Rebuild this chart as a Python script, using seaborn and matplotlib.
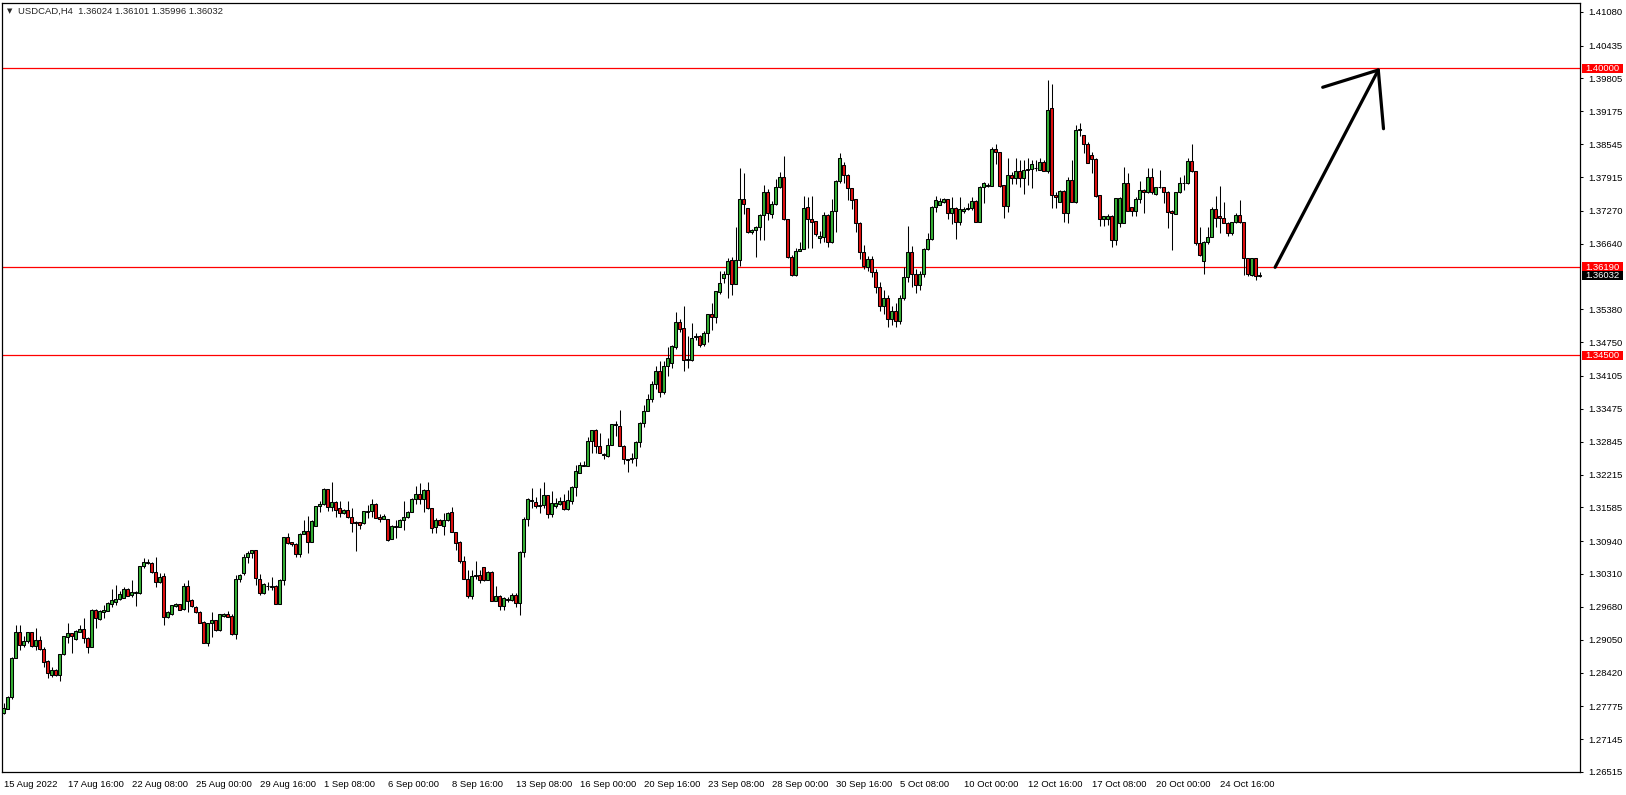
"""
USDCAD H4 candlestick chart (MT4 style)
"""

import matplotlib
matplotlib.use('Agg')
import numpy as np
import matplotlib.pyplot as plt
import matplotlib.transforms as mtransforms
from matplotlib.patches import Rectangle
import seaborn as sns

# chart header
symbol = 'USDCAD,H4'
last_quote = ['1.36024', '1.36101', '1.35996', '1.36032']

# OHLC per H4 bar
opens = [
    1.2764, 1.2773, 1.2796, 1.2869, 1.2920, 1.2895, 1.2902, 1.2919, 1.2893, 1.2904,
    1.2888, 1.2864, 1.2837, 1.2847, 1.2838, 1.2877, 1.2911, 1.2917, 1.2906, 1.2920,
    1.2925, 1.2909, 1.2891, 1.2962, 1.2944, 1.2958, 1.2960, 1.2973, 1.2978, 1.2982,
    1.2985, 1.3003, 1.2990, 1.2994, 1.2994, 1.3046, 1.3051, 1.3051, 1.3034, 1.3016,
    1.3027, 1.2948, 1.2955, 1.2970, 1.2973, 1.2963, 1.3008, 1.2981, 1.2968, 1.2958,
    1.2939, 1.2899, 1.2936, 1.2942, 1.2923, 1.2950, 1.2955, 1.2951, 1.2915, 1.3021,
    1.3032, 1.3063, 1.3071, 1.3076, 1.3021, 1.2995, 1.3007, 1.3005, 1.3008, 1.2974,
    1.3019, 1.3101, 1.3092, 1.3089, 1.3069, 1.3108, 1.3114, 1.3093, 1.3123, 1.3161,
    1.3165, 1.3193, 1.3159, 1.3169, 1.3157, 1.3147, 1.3154, 1.3140, 1.3131, 1.3130,
    1.3128, 1.3150, 1.3151, 1.3165, 1.3141, 1.3137, 1.3136, 1.3098, 1.3121, 1.3121,
    1.3135, 1.3140, 1.3150, 1.3174, 1.3184, 1.3174, 1.3192, 1.3157, 1.3121, 1.3135,
    1.3123, 1.3134, 1.3150, 1.3112, 1.3093, 1.3055, 1.3022, 1.2989, 1.3029, 1.3029,
    1.3044, 1.3020, 1.3035, 1.2980, 1.2989, 1.2970, 1.2983, 1.2981, 1.2991, 1.2975,
    1.3073, 1.3136, 1.3170, 1.3168, 1.3162, 1.3163, 1.3182, 1.3146, 1.3161, 1.3165,
    1.3171, 1.3155, 1.3171, 1.3198, 1.3225, 1.3238, 1.3238, 1.3286, 1.3306, 1.3277,
    1.3260, 1.3257, 1.3279, 1.3316, 1.3314, 1.3277, 1.3251, 1.3251, 1.3254, 1.3284,
    1.3320, 1.3343, 1.3367, 1.3395, 1.3420, 1.3380, 1.3430, 1.3435, 1.3465, 1.3513,
    1.3502, 1.3441, 1.3441, 1.3485, 1.3487, 1.3471, 1.3493, 1.3529, 1.3524, 1.3572,
    1.3599, 1.3605, 1.3633, 1.3587, 1.3633, 1.3749, 1.3732, 1.3687, 1.3691, 1.3695,
    1.3719, 1.3762, 1.3720, 1.3739, 1.3772, 1.3791, 1.3711, 1.3638, 1.3603, 1.3650,
    1.3654, 1.3734, 1.3711, 1.3707, 1.3674, 1.3677, 1.3719, 1.3668, 1.3727, 1.3784,
    1.3815, 1.3796, 1.3770, 1.3749, 1.3704, 1.3647, 1.3620, 1.3634, 1.3610, 1.3580,
    1.3545, 1.3560, 1.3520, 1.3535, 1.3515, 1.3560, 1.3600, 1.3647, 1.3605, 1.3585,
    1.3605, 1.3654, 1.3672, 1.3735, 1.3738, 1.3744, 1.3749, 1.3723, 1.3733, 1.3706,
    1.3727, 1.3731, 1.3732, 1.3746, 1.3706, 1.3772, 1.3775, 1.3775, 1.3845, 1.3839,
    1.3776, 1.3737, 1.3795, 1.3789, 1.3803, 1.3790, 1.3806, 1.3807, 1.3809, 1.3806,
    1.3820, 1.3804, 1.3923, 1.3758, 1.3744, 1.3765, 1.3723, 1.3786, 1.3744, 1.3882,
    1.3872, 1.3855, 1.3834, 1.3827, 1.3757, 1.3711, 1.3712, 1.3717, 1.3670, 1.3704,
    1.3704, 1.3780, 1.3734, 1.3727, 1.3749, 1.3767, 1.3762, 1.3791, 1.3759, 1.3772,
    1.3772, 1.3763, 1.3727, 1.3721, 1.3762, 1.3780, 1.3780, 1.3822, 1.3803, 1.3665,
    1.3631, 1.3668, 1.3677, 1.3730, 1.3716, 1.3714, 1.3704, 1.3685, 1.3705, 1.3719,
    1.3705, 1.3636, 1.3603, 1.3636, 1.36024,
]
highs = [
    1.2783, 1.2797, 1.2871, 1.2934, 1.2934, 1.2912, 1.2920, 1.2920, 1.2928, 1.2912,
    1.2891, 1.2866, 1.2853, 1.2848, 1.2877, 1.2912, 1.2936, 1.2918, 1.2923, 1.2933,
    1.2946, 1.2910, 1.2963, 1.2963, 1.2961, 1.2971, 1.2977, 1.3003, 1.3010, 1.2998,
    1.3005, 1.3004, 1.3019, 1.2998, 1.3047, 1.3061, 1.3059, 1.3053, 1.3064, 1.3032,
    1.3032, 1.2960, 1.2972, 1.2975, 1.2974, 1.3014, 1.3019, 1.2982, 1.2969, 1.2959,
    1.2940, 1.2937, 1.2958, 1.2943, 1.2955, 1.2956, 1.2960, 1.2955, 1.3029, 1.3031,
    1.3069, 1.3074, 1.3077, 1.3077, 1.3030, 1.3014, 1.3015, 1.3026, 1.3009, 1.3021,
    1.3102, 1.3109, 1.3093, 1.3090, 1.3110, 1.3135, 1.3142, 1.3135, 1.3162, 1.3170,
    1.3196, 1.3194, 1.3207, 1.3170, 1.3170, 1.3155, 1.3171, 1.3157, 1.3132, 1.3131,
    1.3152, 1.3163, 1.3174, 1.3166, 1.3145, 1.3146, 1.3137, 1.3124, 1.3135, 1.3136,
    1.3171, 1.3152, 1.3176, 1.3200, 1.3205, 1.3193, 1.3208, 1.3158, 1.3138, 1.3137,
    1.3148, 1.3149, 1.3160, 1.3112, 1.3094, 1.3065, 1.3038, 1.3038, 1.3056, 1.3038,
    1.3045, 1.3037, 1.3037, 1.3008, 1.2990, 1.2987, 1.2986, 1.2994, 1.2994, 1.3074,
    1.3141, 1.3176, 1.3195, 1.3179, 1.3195, 1.3208, 1.3183, 1.3189, 1.3176, 1.3179,
    1.3184, 1.3192, 1.3199, 1.3240, 1.3246, 1.3248, 1.3294, 1.3307, 1.3308, 1.3302,
    1.3263, 1.3291, 1.3319, 1.3324, 1.3345, 1.3278, 1.3252, 1.3262, 1.3285, 1.3322,
    1.3355, 1.3376, 1.3400, 1.3430, 1.3440, 1.3440, 1.3465, 1.3470, 1.3532, 1.3520,
    1.3545, 1.3486, 1.3512, 1.3492, 1.3489, 1.3497, 1.3530, 1.3551, 1.3574, 1.3612,
    1.3612, 1.3637, 1.3638, 1.3695, 1.3808, 1.3799, 1.3733, 1.3692, 1.3698, 1.3721,
    1.3776, 1.3768, 1.3745, 1.3787, 1.3802, 1.3832, 1.3712, 1.3643, 1.3655, 1.3668,
    1.3755, 1.3754, 1.3755, 1.3708, 1.3689, 1.3725, 1.3720, 1.3749, 1.3786, 1.3838,
    1.3820, 1.3797, 1.3771, 1.3750, 1.3705, 1.3661, 1.3640, 1.3640, 1.3615, 1.3590,
    1.3575, 1.3565, 1.3545, 1.3550, 1.3565, 1.3620, 1.3697, 1.3660, 1.3615, 1.3612,
    1.3655, 1.3684, 1.3737, 1.3755, 1.3751, 1.3751, 1.3750, 1.3754, 1.3734, 1.3753,
    1.3735, 1.3742, 1.3754, 1.3748, 1.3774, 1.3783, 1.3780, 1.3850, 1.3855, 1.3840,
    1.3777, 1.3829, 1.3802, 1.3829, 1.3824, 1.3825, 1.3829, 1.3825, 1.3824, 1.3828,
    1.3825, 1.3978, 1.3970, 1.3763, 1.3767, 1.3767, 1.3791, 1.3825, 1.3891, 1.3896,
    1.3873, 1.3859, 1.3840, 1.3828, 1.3758, 1.3717, 1.3720, 1.3718, 1.3752, 1.3753,
    1.3810, 1.3800, 1.3735, 1.3753, 1.3784, 1.3768, 1.3808, 1.3808, 1.3773, 1.3806,
    1.3773, 1.3764, 1.3728, 1.3763, 1.3791, 1.3795, 1.3829, 1.3854, 1.3804, 1.3695,
    1.3669, 1.3695, 1.3734, 1.3755, 1.3774, 1.3744, 1.3705, 1.3706, 1.3723, 1.3748,
    1.3706, 1.3637, 1.3637, 1.3637, 1.36101,
]
lows = [
    1.2762, 1.2772, 1.2792, 1.2869, 1.2886, 1.2891, 1.2898, 1.2891, 1.2886, 1.2886,
    1.2853, 1.2831, 1.2834, 1.2836, 1.2826, 1.2876, 1.2899, 1.2879, 1.2905, 1.2919,
    1.2899, 1.2880, 1.2890, 1.2928, 1.2943, 1.2947, 1.2959, 1.2968, 1.2971, 1.2981,
    1.2984, 1.2988, 1.2987, 1.2970, 1.2993, 1.3042, 1.3050, 1.3033, 1.3005, 1.3013,
    1.2934, 1.2946, 1.2953, 1.2968, 1.2961, 1.2962, 1.2958, 1.2968, 1.2956, 1.2936,
    1.2898, 1.2893, 1.2911, 1.2922, 1.2922, 1.2949, 1.2948, 1.2914, 1.2906, 1.3015,
    1.3029, 1.3052, 1.3061, 1.3009, 1.2991, 1.2992, 1.3000, 1.3000, 1.2973, 1.2973,
    1.3010, 1.3089, 1.3085, 1.3064, 1.3063, 1.3107, 1.3072, 1.3092, 1.3122, 1.3149,
    1.3164, 1.3151, 1.3151, 1.3140, 1.3140, 1.3145, 1.3138, 1.3112, 1.3074, 1.3117,
    1.3127, 1.3138, 1.3141, 1.3138, 1.3130, 1.3136, 1.3095, 1.3097, 1.3100, 1.3120,
    1.3115, 1.3139, 1.3149, 1.3165, 1.3165, 1.3149, 1.3156, 1.3110, 1.3110, 1.3124,
    1.3106, 1.3133, 1.3111, 1.3076, 1.3051, 1.3022, 1.2984, 1.2982, 1.3022, 1.3014,
    1.3018, 1.3019, 1.2979, 1.2979, 1.2962, 1.2962, 1.2978, 1.2980, 1.2968, 1.2953,
    1.3063, 1.3122, 1.3157, 1.3157, 1.3147, 1.3157, 1.3139, 1.3141, 1.3157, 1.3164,
    1.3153, 1.3154, 1.3165, 1.3180, 1.3225, 1.3237, 1.3237, 1.3263, 1.3262, 1.3262,
    1.3251, 1.3256, 1.3278, 1.3295, 1.3276, 1.3242, 1.3227, 1.3244, 1.3238, 1.3274,
    1.3312, 1.3343, 1.3360, 1.3385, 1.3370, 1.3375, 1.3410, 1.3425, 1.3462, 1.3495,
    1.3420, 1.3425, 1.3440, 1.3480, 1.3465, 1.3468, 1.3476, 1.3498, 1.3512, 1.3568,
    1.3588, 1.3559, 1.3566, 1.3586, 1.3621, 1.3721, 1.3684, 1.3683, 1.3639, 1.3671,
    1.3671, 1.3709, 1.3714, 1.3738, 1.3770, 1.3709, 1.3636, 1.3601, 1.3601, 1.3649,
    1.3653, 1.3655, 1.3655, 1.3679, 1.3665, 1.3668, 1.3657, 1.3665, 1.3687, 1.3780,
    1.3780, 1.3748, 1.3730, 1.3687, 1.3634, 1.3615, 1.3612, 1.3600, 1.3570, 1.3535,
    1.3530, 1.3505, 1.3508, 1.3505, 1.3510, 1.3555, 1.3590, 1.3580, 1.3570, 1.3575,
    1.3600, 1.3652, 1.3671, 1.3725, 1.3738, 1.3742, 1.3712, 1.3701, 1.3673, 1.3700,
    1.3723, 1.3728, 1.3728, 1.3705, 1.3705, 1.3741, 1.3773, 1.3774, 1.3817, 1.3772,
    1.3714, 1.3725, 1.3779, 1.3779, 1.3773, 1.3760, 1.3776, 1.3770, 1.3804, 1.3805,
    1.3803, 1.3800, 1.3732, 1.3732, 1.3743, 1.3706, 1.3703, 1.3743, 1.3741, 1.3870,
    1.3838, 1.3818, 1.3800, 1.3753, 1.3698, 1.3698, 1.3700, 1.3657, 1.3661, 1.3696,
    1.3703, 1.3726, 1.3717, 1.3717, 1.3742, 1.3723, 1.3761, 1.3760, 1.3757, 1.3771,
    1.3742, 1.3694, 1.3651, 1.3720, 1.3761, 1.3766, 1.3779, 1.3802, 1.3661, 1.3641,
    1.3605, 1.3663, 1.3676, 1.3695, 1.3685, 1.3703, 1.3679, 1.3681, 1.3704, 1.3703,
    1.3604, 1.3602, 1.3602, 1.3595, 1.35996,
]
closes = [
    1.2774, 1.2796, 1.2869, 1.2920, 1.2895, 1.2902, 1.2919, 1.2893, 1.2904, 1.2888,
    1.2863, 1.2842, 1.2847, 1.2837, 1.2877, 1.2912, 1.2917, 1.2912, 1.2922, 1.2925,
    1.2909, 1.2891, 1.2962, 1.2946, 1.2960, 1.2962, 1.2976, 1.2981, 1.2982, 1.2992,
    1.3003, 1.2989, 1.2996, 1.2997, 1.3046, 1.3054, 1.3054, 1.3034, 1.3016, 1.3026,
    1.2948, 1.2958, 1.2971, 1.2973, 1.2962, 1.3008, 1.2980, 1.2969, 1.2958, 1.2937,
    1.2899, 1.2936, 1.2942, 1.2923, 1.2954, 1.2954, 1.2949, 1.2915, 1.3021, 1.3029,
    1.3063, 1.3071, 1.3076, 1.3023, 1.2995, 1.3012, 1.3007, 1.3008, 1.2974, 1.3020,
    1.3101, 1.3091, 1.3088, 1.3069, 1.3108, 1.3114, 1.3093, 1.3133, 1.3161, 1.3165,
    1.3193, 1.3159, 1.3169, 1.3154, 1.3147, 1.3154, 1.3140, 1.3128, 1.3128, 1.3124,
    1.3151, 1.3151, 1.3165, 1.3139, 1.3137, 1.3142, 1.3096, 1.3123, 1.3123, 1.3135,
    1.3141, 1.3150, 1.3174, 1.3184, 1.3174, 1.3192, 1.3157, 1.3119, 1.3135, 1.3125,
    1.3134, 1.3148, 1.3112, 1.3090, 1.3055, 1.3022, 1.2989, 1.3027, 1.3027, 1.3019,
    1.3020, 1.3035, 1.2980, 1.2989, 1.2970, 1.2985, 1.2981, 1.2991, 1.2975, 1.3073,
    1.3136, 1.3174, 1.3172, 1.3162, 1.3164, 1.3182, 1.3146, 1.3166, 1.3167, 1.3171,
    1.3155, 1.3173, 1.3198, 1.3228, 1.3240, 1.3240, 1.3286, 1.3306, 1.3276, 1.3263,
    1.3258, 1.3279, 1.3318, 1.3318, 1.3277, 1.3251, 1.3249, 1.3254, 1.3284, 1.3321,
    1.3343, 1.3367, 1.3395, 1.3420, 1.3380, 1.3430, 1.3445, 1.3468, 1.3513, 1.3500,
    1.3441, 1.3443, 1.3484, 1.3487, 1.3470, 1.3492, 1.3529, 1.3524, 1.3573, 1.3588,
    1.3605, 1.3631, 1.3587, 1.3633, 1.3749, 1.3739, 1.3687, 1.3691, 1.3695, 1.3719,
    1.3762, 1.3723, 1.3739, 1.3772, 1.3791, 1.3711, 1.3638, 1.3603, 1.3650, 1.3654,
    1.3732, 1.3711, 1.3706, 1.3683, 1.3679, 1.3719, 1.3668, 1.3727, 1.3784, 1.3829,
    1.3796, 1.3770, 1.3748, 1.3704, 1.3647, 1.3621, 1.3634, 1.3610, 1.3580, 1.3545,
    1.3560, 1.3520, 1.3535, 1.3515, 1.3560, 1.3600, 1.3647, 1.3605, 1.3585, 1.3605,
    1.3653, 1.3672, 1.3735, 1.3748, 1.3746, 1.3749, 1.3723, 1.3733, 1.3706, 1.3731,
    1.3731, 1.3732, 1.3746, 1.3706, 1.3772, 1.3780, 1.3777, 1.3845, 1.3839, 1.3775,
    1.3737, 1.3795, 1.3789, 1.3803, 1.3790, 1.3806, 1.3807, 1.3816, 1.3808, 1.3820,
    1.3804, 1.3921, 1.3758, 1.3753, 1.3765, 1.3723, 1.3786, 1.3744, 1.3882, 1.3883,
    1.3854, 1.3819, 1.3827, 1.3755, 1.3711, 1.3716, 1.3717, 1.3670, 1.3751, 1.3751,
    1.3780, 1.3727, 1.3727, 1.3749, 1.3767, 1.3762, 1.3791, 1.3762, 1.3772, 1.3772,
    1.3763, 1.3725, 1.3722, 1.3762, 1.3780, 1.3780, 1.3822, 1.3803, 1.3665, 1.3642,
    1.3668, 1.3677, 1.3730, 1.3714, 1.3714, 1.3704, 1.3685, 1.3705, 1.3719, 1.3705,
    1.3636, 1.3606, 1.3636, 1.3601, 1.36032,
]

# time axis: one label every 16 bars
date_labels = ['15 Aug 2022', '17 Aug 16:00', '22 Aug 08:00', '25 Aug 00:00',
               '29 Aug 16:00', '1 Sep 08:00', '6 Sep 00:00', '8 Sep 16:00',
               '13 Sep 08:00', '16 Sep 00:00', '20 Sep 16:00', '23 Sep 08:00',
               '28 Sep 00:00', '30 Sep 16:00', '5 Oct 08:00', '10 Oct 00:00',
               '12 Oct 16:00', '17 Oct 08:00', '20 Oct 00:00', '24 Oct 16:00']
label_step = 16

price_ticks = [1.41080, 1.40435, 1.39805, 1.39175, 1.38545, 1.37915, 1.37270,
               1.36640, 1.35380, 1.34750, 1.34105, 1.33475, 1.32845, 1.32215,
               1.31585, 1.30940, 1.30310, 1.29680, 1.29050, 1.28420, 1.27775,
               1.27145, 1.26515]

# horizontal levels and current bid
level_lines = [1.40000, 1.36190, 1.34500]
current_price = 1.36032

# hand drawn arrow (bar index, price)
arrow_shaft = [(317.9, 1.36186), (343.7, 1.39967)]
arrow_head_left = (329.8, 1.39636)
arrow_head_right = (345.0, 1.38842)

bull_color = '#35b035'
bear_color = '#e01010'
font_size = 6.8

sns.set_style('white')
plt.rcParams['font.family'] = ['Liberation Sans', 'DejaVu Sans']

fig = plt.figure(figsize=(16.26, 7.95), dpi=100)
ax = fig.add_axes([2.3 / 1626, 23 / 795, 1578 / 1626, 769.3 / 795])

o = np.array(opens)
h = np.array(highs)
l = np.array(lows)
c = np.array(closes)
x = np.arange(len(o))

body_low = np.minimum(o, c)
body_h = np.abs(c - o)
colors = np.where(c >= o, bull_color, bear_color)

ax.vlines(x, l, h, color='black', linewidth=0.75, zorder=2)
ax.bar(x, body_h, bottom=body_low, width=0.55, color=colors,
       edgecolor='black', linewidth=0.75, zorder=3)

for lvl in level_lines:
    ax.axhline(lvl, color='red', linewidth=0.9, zorder=1)

# arrow
(x0, y0), (x1, y1) = arrow_shaft
ax.plot([x0, x1], [y0, y1], color='black', lw=2.3, solid_capstyle='round', zorder=4)
ax.plot([arrow_head_left[0], x1, arrow_head_right[0]],
        [arrow_head_left[1], y1, arrow_head_right[1]],
        color='black', lw=2.3, solid_capstyle='round', solid_joinstyle='round', zorder=4)

ax.set_xlim(-0.3, 394.2)
ax.set_ylim(1.26514, 1.41257)

for side in ['top', 'bottom', 'left', 'right']:
    ax.spines[side].set_visible(True)
    ax.spines[side].set_color('black')
    ax.spines[side].set_linewidth(0.9)

ax.set_xticks(np.arange(0, label_step * len(date_labels), label_step))
ax.set_xticklabels(date_labels, ha='left', fontsize=font_size)
ax.tick_params(axis='x', length=3, width=0.75, pad=2.5, direction='out', colors='black')

ax.yaxis.tick_right()
ax.set_yticks(price_ticks)
ax.set_yticklabels([f'{v:.5f}' for v in price_ticks], fontsize=font_size)
ax.tick_params(axis='y', length=2, width=0.75, pad=3.5, direction='out', colors='black')

# price tags on the right scale
trans = mtransforms.blended_transform_factory(ax.transAxes, ax.transData)
box_x0 = (1582 - 2.3) / 1578
box_w = 41 / 1578
box_h = 9.3 / 5218
tags = [(lvl, 'red') for lvl in level_lines] + [(current_price, 'black')]
for lvl, bg in tags:
    ax.add_patch(Rectangle((box_x0, lvl - box_h / 2), box_w, box_h, transform=trans,
                           facecolor=bg, edgecolor='none', clip_on=False, zorder=10))
    ax.text((1585.5 - 2.3) / 1578, lvl, f'{lvl:.5f}', transform=trans, color='white',
            fontsize=font_size, va='center', ha='left', clip_on=False, zorder=11)

# header
fig.text(7 / 1626, 1 - 11 / 795, '\u25bc', fontsize=5, va='center', ha='left',
         family=['DejaVu Sans'])
fig.text(18 / 1626, 1 - 11 / 795, symbol + '  ' + ' '.join(last_quote),
         fontsize=font_size, va='center', ha='left')

plt.savefig('out.png', dpi=100)
